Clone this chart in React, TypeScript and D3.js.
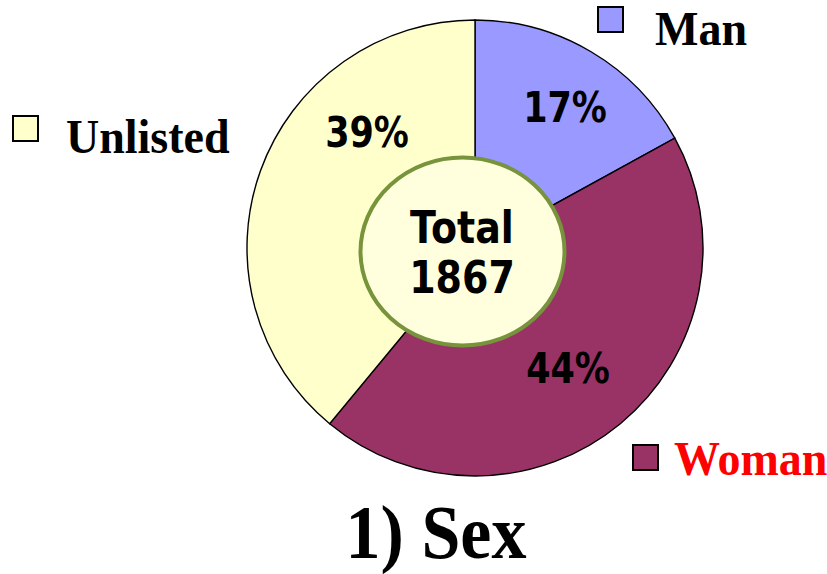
import * as d3 from "d3";

const labels = ["Man", "Woman", "Unlisted"];
const values = [17, 44, 39];
const colors = ["#9999FF", "#993366", "#FFFFCC"];
const total = 1867;
const title = "1) Sex";

const W = 827;
const H = 574;
const cx = 475;
const cy = 248;
const R = 228;

// legend placement
const legendPos = [
  { x: 598, y: 7, tx: 655, ty: 45, color: "#000" },
  { x: 633, y: 445, tx: 674, ty: 475, color: "#FF0000" },
  { x: 13, y: 116, tx: 66, ty: 153, color: "#000" },
];

// label anchors for the percentages
const pctPos = [
  { x: 565, y: 122 },
  { x: 568, y: 383 },
  { x: 367, y: 147 },
];

const pctFont = "'DejaVu Sans', Verdana, sans-serif";
const serif = "'Liberation Serif', 'Times New Roman', serif";

export default function App() {
  const pie = d3
    .pie<number>()
    .sort(null)
    .startAngle(0)
    .endAngle(2 * Math.PI)
    .value((d) => d);
  const arcs = pie(values);
  const arc = d3.arc<d3.PieArcDatum<number>>().innerRadius(0).outerRadius(R);

  return (
    <svg
      width={W}
      height={H}
      style={{ position: "absolute", left: 0, top: 0, background: "#fff" }}
    >
      <g transform={`translate(${cx},${cy})`}>
        {arcs.map((a, i) => (
          <path
            key={labels[i]}
            d={arc(a) ?? ""}
            fill={colors[i]}
            stroke="#000"
            strokeWidth={1.4}
          />
        ))}
      </g>

      {arcs.map((a, i) => (
        <text
          key={"p" + i}
          transform={`translate(${pctPos[i].x},${pctPos[i].y}) scale(1,1.2)`}
          textAnchor="middle"
          fontFamily={pctFont}
          fontWeight="bold"
          fontSize={35}
          fill="#000"
        >
          {d3.format("d")(a.data)}%
        </text>
      ))}

      <ellipse
        cx={462.5}
        cy={251.5}
        rx={102}
        ry={94}
        fill="#FFFFDD"
        stroke="#77933C"
        strokeWidth={4}
      />
      <text
        transform="translate(462,243) scale(1,1.15)"
        textAnchor="middle"
        fontFamily={pctFont}
        fontWeight="bold"
        fontSize={38}
      >
        Total
      </text>
      <text
        transform="translate(462,293) scale(1,1.15)"
        textAnchor="middle"
        fontFamily={pctFont}
        fontWeight="bold"
        fontSize={38}
      >
        {total}
      </text>

      {labels.map((l, i) => (
        <g key={"l" + l}>
          <rect
            x={legendPos[i].x}
            y={legendPos[i].y}
            width={25}
            height={25}
            fill={colors[i]}
            stroke="#000"
            strokeWidth={2}
          />
          <text
            transform={`translate(${legendPos[i].tx},${legendPos[i].ty}) scale(1,1.06)`}
            fontFamily={serif}
            fontWeight="bold"
            fontSize={46}
            fill={legendPos[i].color}
          >
            {l}
          </text>
        </g>
      ))}

      <text
        transform="translate(436,558) scale(1,1.08)"
        textAnchor="middle"
        fontFamily={serif}
        fontWeight="bold"
        fontSize={70}
      >
        {title}
      </text>
    </svg>
  );
}
